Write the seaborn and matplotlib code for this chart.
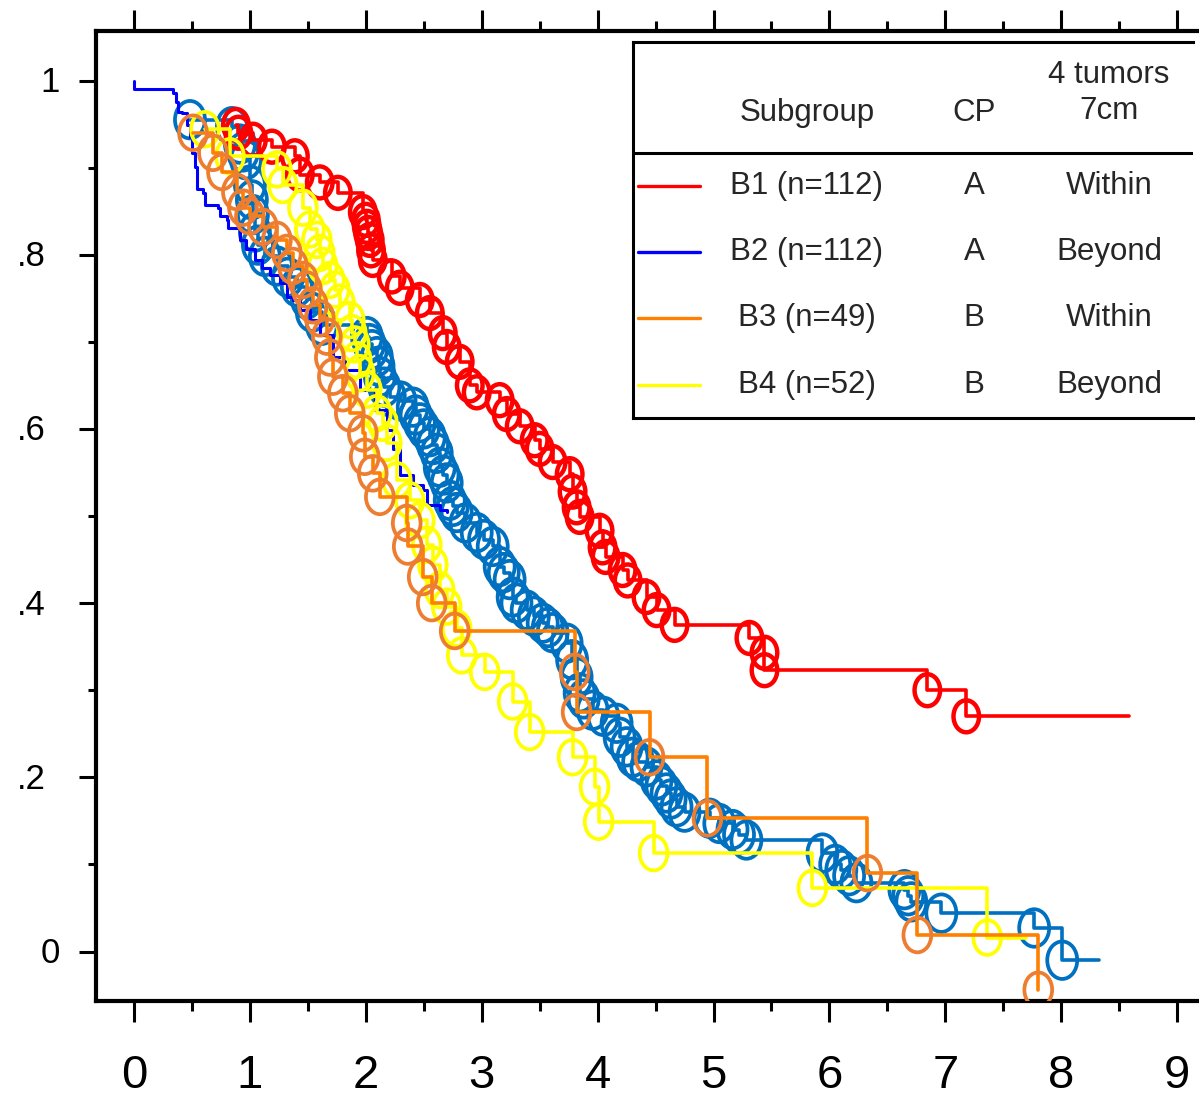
import matplotlib
matplotlib.use("Agg")
import matplotlib.pyplot as plt
from matplotlib.path import Path
from matplotlib.transforms import Affine2D, offset_copy
from matplotlib.ticker import MultipleLocator, FixedLocator
import seaborn as sns

# ---------------------------------------------------------------- data
# B1 (n=112): CP class A, within the 4 tumors / 7 cm criterion
b1_time = [0.879, 0.900, 1.026, 1.190, 1.388, 1.431, 1.603, 1.759, 1.974, 2.000,
           2.009, 2.020, 2.034, 2.045, 2.060, 2.224, 2.293, 2.466, 2.552, 2.664,
           2.698, 2.810, 2.897, 2.957, 3.155, 3.216, 3.328, 3.457, 3.500, 3.612,
           3.759, 3.784, 3.819, 3.845, 4.017, 4.043, 4.069, 4.216, 4.259, 4.422,
           4.509, 4.664, 5.310, 5.440, 5.440, 6.845, 7.181]
b1_surv = [0.949, 0.940, 0.932, 0.924, 0.913, 0.892, 0.883, 0.871, 0.849, 0.840,
           0.832, 0.825, 0.817, 0.805, 0.794, 0.775, 0.762, 0.748, 0.733, 0.710,
           0.694, 0.677, 0.650, 0.642, 0.633, 0.617, 0.603, 0.587, 0.577, 0.562,
           0.548, 0.528, 0.510, 0.499, 0.483, 0.464, 0.453, 0.438, 0.426, 0.407,
           0.392, 0.375, 0.360, 0.343, 0.323, 0.300, 0.270]
b1_last_followup = 8.586

# B2 (n=112): CP class A, beyond the criterion -- early step estimate
b2_step_time = [0.000, 0.000, 0.336, 0.362, 0.379, 0.414, 0.457, 0.483, 0.500, 0.526,
                0.543, 0.595, 0.612, 0.724, 0.741, 0.802, 0.810, 0.914, 0.966, 1.043,
                1.103, 1.172, 1.259, 1.319, 1.371, 1.431, 1.517, 1.603, 1.716, 1.819,
                1.948, 2.078, 2.181, 2.233, 2.293, 2.405, 2.491, 2.526, 2.638, 2.698]
b2_step_surv = [1.000, 0.990, 0.986, 0.975, 0.964, 0.963, 0.949, 0.935, 0.917, 0.901,
                0.875, 0.871, 0.857, 0.854, 0.844, 0.840, 0.831, 0.817, 0.806, 0.794,
                0.785, 0.777, 0.768, 0.752, 0.748, 0.737, 0.725, 0.708, 0.683, 0.668,
                0.645, 0.622, 0.599, 0.577, 0.547, 0.536, 0.530, 0.513, 0.507, 0.505]

# B2 censored-observation curve
b2_mark_time = [0.483, 0.845, 0.914, 0.940, 0.966, 1.000, 1.017, 1.026, 1.043, 1.069,
                1.129, 1.233, 1.328, 1.405, 1.491, 1.534, 1.621, 2.009, 2.030, 2.052,
                2.095, 2.110, 2.121, 2.160, 2.207, 2.300, 2.405, 2.430, 2.466, 2.500,
                2.552, 2.580, 2.612, 2.638, 2.670, 2.698, 2.724, 2.750, 2.784, 2.860,
                2.957, 3.020, 3.095, 3.155, 3.190, 3.241, 3.267, 3.300, 3.388, 3.450,
                3.526, 3.570, 3.612, 3.733, 3.780, 3.819, 3.845, 3.880, 3.957, 4.050,
                4.164, 4.190, 4.250, 4.302, 4.350, 4.422, 4.509, 4.550, 4.595, 4.630,
                4.681, 4.750, 4.966, 5.050, 5.164, 5.220, 5.284, 5.940, 6.050, 6.103,
                6.170, 6.233, 6.647, 6.680, 6.707, 6.966, 7.767, 8.009]
b2_mark_surv = [0.955, 0.947, 0.927, 0.918, 0.909, 0.880, 0.863, 0.846, 0.826, 0.811,
                0.798, 0.787, 0.774, 0.763, 0.749, 0.734, 0.719, 0.706, 0.698, 0.691,
                0.683, 0.672, 0.660, 0.648, 0.637, 0.632, 0.625, 0.616, 0.607, 0.600,
                0.591, 0.582, 0.572, 0.556, 0.547, 0.538, 0.518, 0.511, 0.504, 0.492,
                0.481, 0.473, 0.465, 0.442, 0.435, 0.427, 0.407, 0.400, 0.392, 0.385,
                0.377, 0.372, 0.366, 0.354, 0.335, 0.315, 0.297, 0.290, 0.277, 0.270,
                0.262, 0.246, 0.235, 0.223, 0.218, 0.212, 0.197, 0.190, 0.182, 0.175,
                0.166, 0.160, 0.153, 0.147, 0.140, 0.134, 0.128, 0.113, 0.100, 0.094,
                0.087, 0.079, 0.071, 0.064, 0.057, 0.044, 0.027, -0.010]
b2_last_followup = 8.328

# B3 (n=49): CP class B, within the criterion
b3_time = [0.509, 0.681, 0.759, 0.888, 0.940, 1.000, 1.112, 1.233, 1.319, 1.371,
           1.457, 1.491, 1.543, 1.603, 1.664, 1.690, 1.716, 1.802, 1.862, 1.974,
           1.991, 2.060, 2.121, 2.353, 2.362, 2.491, 2.569, 2.767, 3.802, 3.819,
           4.448, 4.948, 6.328, 6.759, 7.802]
b3_surv = [0.940, 0.917, 0.895, 0.872, 0.854, 0.844, 0.832, 0.817, 0.802, 0.787,
           0.771, 0.760, 0.742, 0.727, 0.706, 0.682, 0.660, 0.641, 0.618, 0.595,
           0.568, 0.549, 0.522, 0.492, 0.465, 0.430, 0.400, 0.368, 0.321, 0.275,
           0.223, 0.153, 0.090, 0.019, -0.044]

# B4 (n=52): CP class B, beyond the criterion
b4_time = [0.612, 0.828, 1.233, 1.284, 1.457, 1.517, 1.578, 1.603, 1.629, 1.690,
           1.733, 1.776, 1.862, 1.879, 1.905, 1.922, 1.948, 2.009, 2.095, 2.147,
           2.181, 2.267, 2.379, 2.466, 2.526, 2.578, 2.638, 2.698, 2.784, 2.828,
           3.026, 3.267, 3.414, 3.784, 3.974, 4.009, 4.483, 5.853, 7.362]
b4_surv = [0.944, 0.913, 0.898, 0.880, 0.854, 0.829, 0.817, 0.802, 0.787, 0.771,
           0.760, 0.745, 0.725, 0.710, 0.697, 0.679, 0.664, 0.645, 0.618, 0.607,
           0.584, 0.541, 0.518, 0.495, 0.467, 0.444, 0.415, 0.396, 0.371, 0.340,
           0.321, 0.287, 0.252, 0.223, 0.189, 0.149, 0.113, 0.073, 0.016]
b4_last_followup = 7.698

# legend table
subgroup_labels = ["B1 (n=112)", "B2 (n=112)", "B3 (n=49)", "B4 (n=52)"]
cp_labels = ["A", "A", "B", "B"]
criterion_labels = ["Within", "Beyond", "Within", "Beyond"]
header_labels = ["Subgroup", "CP", "4 tumors\n7cm"]

x_ticks = list(range(10))
y_ticks = [0.0, 0.2, 0.4, 0.6, 0.8, 1.0]
y_tick_labels = ["0", ".2", ".4", ".6", ".8", "1"]

# ---------------------------------------------------------------- style
RED = "#FF0000"
BLUE = "#0000FF"
STEEL = "#0070C0"
ORANGE_LINE = "#FF7F00"
ORANGE_MARK = "#ED7D31"
YELLOW = "#FFFF00"

sns.set_theme(style="ticks")
plt.rcParams["font.family"] = ["Liberation Sans", "DejaVu Sans"]

W, H = 1199, 1099
fig = plt.figure(figsize=(W / 100, H / 100), dpi=100)
fig.patch.set_facecolor("white")

ax = fig.add_axes([96 / W, (H - 1001) / H, (W - 96) / W, (1001 - 31) / H])
ax.set_facecolor("white")

# tall open ellipse used for censoring marks
ellipse = Path.unit_circle().transformed(Affine2D().scale(0.8, 1.0))


def draw_curve(times, surv, last, line_color, mark_color=None, lw=2.6,
               mark_size=25, mark_lw=2.7, z=2):
    xs = list(times)
    ys = list(surv)
    if last is not None:
        xs.append(last)
        ys.append(surv[-1])
    sns.lineplot(x=xs, y=ys, ax=ax, color=line_color, lw=lw,
                 drawstyle="steps-post", estimator=None, sort=False,
                 legend=False, zorder=z)
    if mark_color is not None:
        sns.scatterplot(x=times, y=surv, ax=ax, marker=ellipse,
                        s=mark_size ** 2, color=mark_color,
                        facecolor="none", edgecolor=mark_color,
                        linewidth=mark_lw, legend=False, zorder=z + 0.5)


draw_curve(b2_mark_time, b2_mark_surv, b2_last_followup, STEEL, STEEL,
           mark_size=27, z=2)
draw_curve(b2_step_time, b2_step_surv, None, BLUE, None, lw=2.2, z=3)
draw_curve(b1_time, b1_surv, b1_last_followup, RED, RED,
           mark_size=23, mark_lw=3.2, z=4)
draw_curve(b4_time, b4_surv, b4_last_followup, YELLOW, YELLOW, z=5)
draw_curve(b3_time, b3_surv, None, ORANGE_LINE, ORANGE_MARK, z=6)

# axes frame
ax.set_xlim((96 - 134) / 115.9, (W - 134) / 115.9)
ax.set_ylim((951.5 - 1001) / 871.0, (951.5 - 31) / 871.0)
for side in ("left", "top", "bottom"):
    ax.spines[side].set_visible(True)
    ax.spines[side].set_linewidth(3.0)
    ax.spines[side].set_color("black")
ax.spines["right"].set_visible(False)

ax.xaxis.set_major_locator(FixedLocator(x_ticks))
ax.xaxis.set_minor_locator(MultipleLocator(0.5))
ax.yaxis.set_major_locator(FixedLocator(y_ticks))
ax.yaxis.set_minor_locator(MultipleLocator(0.1))
ax.set_xticklabels([str(v) for v in x_ticks])

ax.tick_params(axis="x", which="major", direction="out", length=15, width=2.2,
               color="black", top=True, bottom=True, labeltop=False,
               labelbottom=True, labelsize=34, pad=23, labelcolor="black")
ax.tick_params(axis="x", which="minor", direction="out", length=7, width=2.2,
               color="black", top=True, bottom=True)
ax.tick_params(axis="y", which="major", direction="out", length=12, width=2.2,
               color="black", left=True, right=False, labelleft=False)
ax.tick_params(axis="y", which="minor", direction="out", length=6, width=2.2,
               color="black", left=True, right=False)
ax.set_xlabel("")
ax.set_ylabel("")
ax.grid(False)

# y tick labels: decimals and whole numbers sit at slightly different offsets
for val, lab in zip(y_ticks, y_tick_labels):
    shift = 36 if "." not in lab else 50
    tr = offset_copy(ax.get_yaxis_transform(), fig=fig, x=-shift, y=-2,
                     units="dots")
    ax.text(0, val, lab, transform=tr, ha="right", va="center",
            fontsize=25, color="black", clip_on=False)

# ---------------------------------------------------------------- legend table
lx0, lx1, ly0, ly1 = 633, 1193, 42, 418
lax = fig.add_axes([lx0 / W, (H - ly1) / H, (lx1 - lx0) / W, (ly1 - ly0) / H])
lax.set_xlim(lx0, lx1)
lax.set_ylim(ly1, ly0)
lax.set_xticks([])
lax.set_yticks([])
lax.set_facecolor("white")
for side in ("left", "top", "bottom"):
    lax.spines[side].set_visible(True)
    lax.spines[side].set_linewidth(2.2)
    lax.spines[side].set_color("black")
lax.spines["right"].set_visible(False)
lax.axhline(153, color="black", lw=2.2)

col_x = [807, 974, 1109]
fs = 22.5
lax.text(col_x[0], 113, header_labels[0], ha="center", va="center", fontsize=fs)
lax.text(col_x[1], 113, header_labels[1], ha="center", va="center", fontsize=fs)
lax.text(col_x[2], 93, header_labels[2], ha="center", va="center", fontsize=fs,
         linespacing=1.3)

row_y = [186, 252, 318, 385]
line_colors = [RED, BLUE, ORANGE_LINE, YELLOW]
for ry, sub, cp, crit, c in zip(row_y, subgroup_labels, cp_labels,
                                criterion_labels, line_colors):
    lax.plot([638, 700], [ry, ry], color=c, lw=2.4)
    lax.text(col_x[0], ry, sub, ha="center", va="center", fontsize=fs)
    lax.text(col_x[1], ry, cp, ha="center", va="center", fontsize=fs)
    lax.text(col_x[2], ry, crit, ha="center", va="center", fontsize=fs)

fig.savefig("out.png", dpi=100, facecolor="white")
